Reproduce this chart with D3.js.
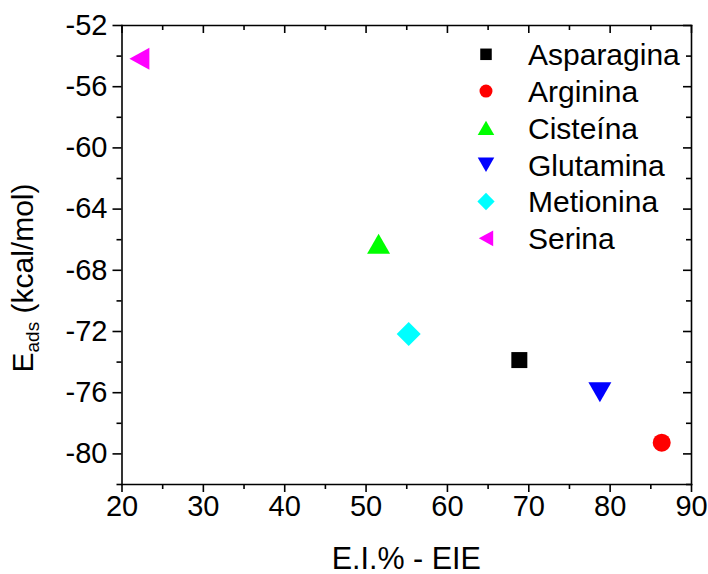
<!DOCTYPE html>
<html>
<head>
<meta charset="utf-8">
<script src="https://cdn.jsdelivr.net/npm/d3@7"></script>
<style>
  body { margin: 0; background: #fff; }
  svg { font-family: "Liberation Sans", Arial, sans-serif; }
  .axis path, .axis line { stroke: #000; stroke-width: 1.6; }
  .axis text { font-size: 29px; fill: #000; }
</style>
</head>
<body>
<div id="chart"></div>
<script>
// Data
let names = ['Asparagina', 'Arginina', 'Cisteína', 'Glutamina', 'Metionina', 'Serina'];
let eiValues = [68.9, 86.4, 51.6, 78.8, 55.3, 22.2];
let eadsValues = [-73.9, -79.3, -66.3, -76.0, -72.2, -54.2];
let colors = ['#000000', '#ff0000', '#00ff00', '#0000ff', '#00ffff', '#ff00ff'];
let shapes = ['square', 'circle', 'up', 'down', 'diamond', 'left'];
let xTicks = [20, 30, 40, 50, 60, 70, 80, 90];
let yTicks = [-52, -56, -60, -64, -68, -72, -76, -80];

const W = 708, H = 574;
const margin = {top: 25, right: 17, bottom: 90, left: 121.5};
let w = W - margin.left - margin.right;
let h = H - margin.top - margin.bottom;

let svg = d3.select('#chart').append('svg')
  .attr('width', W)
  .attr('height', H);

let g = svg.append('g')
  .attr('transform', `translate(${margin.left},${margin.top})`);

let xScale = d3.scaleLinear().domain([20, 90]).range([0, w]);
let yScale = d3.scaleLinear().domain([-82, -52]).range([h, 0]);

// plain hyphen for negatives, like the original
let fmt = d => String(d);

// minor ticks halfway between majors
let xMinor = d3.range(25, 90, 10);
let yMinor = d3.range(-82, -52, 4);

let addAxis = (axis, transform) => {
  let a = g.append('g').attr('class', 'axis').attr('transform', transform).call(axis);
  return a;
}

// bottom / left: outward ticks with labels
addAxis(d3.axisBottom(xScale).tickValues(xTicks).tickSize(8).tickSizeOuter(0).tickPadding(3).tickFormat(fmt), `translate(0,${h})`);
addAxis(d3.axisBottom(xScale).tickValues(xMinor).tickSize(5).tickFormat(''), `translate(0,${h})`)
  .select('.domain').remove();
addAxis(d3.axisLeft(yScale).tickValues(yTicks).tickSize(9).tickSizeOuter(0).tickPadding(5).tickFormat(fmt), 'translate(0,0)');
addAxis(d3.axisLeft(yScale).tickValues(yMinor).tickSize(5).tickFormat(''), 'translate(0,0)')
  .select('.domain').remove();

// top / right: mirrored, inward ticks
addAxis(d3.axisBottom(xScale).tickValues(xTicks).tickSize(8).tickSizeOuter(0).tickFormat(''), 'translate(0,0)');
addAxis(d3.axisBottom(xScale).tickValues(xMinor).tickSize(5).tickFormat(''), 'translate(0,0)')
  .select('.domain').remove();
addAxis(d3.axisLeft(yScale).tickValues(yTicks).tickSize(8).tickSizeOuter(0).tickFormat(''), `translate(${w},0)`);
addAxis(d3.axisLeft(yScale).tickValues(yMinor).tickSize(5).tickFormat(''), `translate(${w},0)`)
  .select('.domain').remove();

g.selectAll('.axis .domain').attr('stroke-linecap', 'square');

// Symbol paths, s = scale factor
let symbolPath = (shape, s) => {
  if (shape == 'square') {
    let a = 8 * s;
    return `M${-a},${-a}H${a}V${a}H${-a}Z`;
  } else if (shape == 'circle') {
    let r = 9 * s;
    return `M${r},0A${r},${r} 0 1,1 ${-r},0A${r},${r} 0 1,1 ${r},0Z`;
  } else if (shape == 'up') {
    let a = 11.5 * s, b = 10 * s;
    return `M0,${-b}L${a},${b}L${-a},${b}Z`;
  } else if (shape == 'down') {
    let a = 11.5 * s, b = 10 * s;
    return `M0,${b}L${a},${-b}L${-a},${-b}Z`;
  } else if (shape == 'diamond') {
    let a = 12 * s;
    return `M0,${-a}L${a},0L0,${a}L${-a},0Z`;
  } else if (shape == 'left') {
    let a = 10 * s, b = 11 * s;
    return `M${-a},0L${a},${-b}L${a},${b}Z`;
  }
}

let points = names.map((n, i) => ({name: n, x: eiValues[i], y: eadsValues[i], color: colors[i], shape: shapes[i]}));

g.selectAll('path.pt')
  .data(points)
  .enter()
  .append('path')
    .attr('class', 'pt')
    .attr('d', d => symbolPath(d.shape, 1))
    .attr('transform', d => `translate(${xScale(d.x)},${yScale(d.y)})`)
    .attr('fill', d => d.color);

// Legend
let legend = svg.append('g').attr('transform', 'translate(486,54.3)');
let rowH = 36.8;
let item = legend.selectAll('g')
  .data(points)
  .enter()
  .append('g')
    .attr('transform', (d, i) => `translate(0,${i * rowH})`);
item.append('path')
  .attr('d', d => symbolPath(d.shape, 0.72))
  .attr('fill', d => d.color);
item.append('text')
  .attr('x', 42)
  .attr('y', 10.8)
  .attr('font-size', 30)
  .text(d => d.name);

// Axis titles
svg.append('text')
  .attr('x', margin.left + w / 2)
  .attr('y', 569)
  .attr('text-anchor', 'middle')
  .attr('font-size', 30.5)
  .text('E.I.% - EIE');

let yt = svg.append('text')
  .attr('transform', 'translate(33,278) rotate(-90)')
  .attr('text-anchor', 'middle')
  .attr('font-size', 30);
yt.append('tspan').text('E');
yt.append('tspan').attr('font-size', 19).attr('dy', 6).text('ads');
yt.append('tspan').attr('dy', -6).text(' (kcal/mol)');
</script>
</body>
</html>
